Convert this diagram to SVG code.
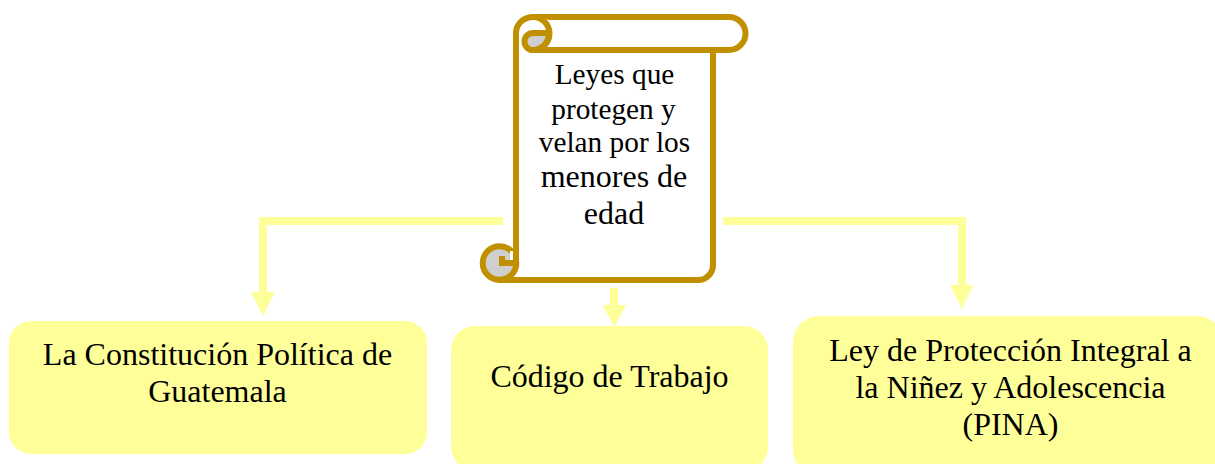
<svg xmlns="http://www.w3.org/2000/svg" width="1215" height="464" viewBox="0 0 1215 464">
<style>
text{font-family:"Liberation Serif","Times New Roman",serif;fill:#000;text-anchor:middle}
.s{font-size:29.3px}.l{font-size:32px}
.box{fill:#ffff99}
.line{fill:none;stroke:#ffff99;stroke-width:8}
.head{fill:#ffff99}
.sc{fill:#fff;stroke:#c09000;stroke-width:6;stroke-linejoin:round}
.cu{fill:#cfcfcf;stroke:#c09000;stroke-width:6;stroke-linejoin:round}
.hook{fill:none;stroke:#c09000;stroke-width:6}
</style>
<g id="connectors">
<path class="line" d="M503 221H263V293"/><polygon class="head" points="251,292 275,292 263,316"/>
<path class="line" d="M614 288V306"/><polygon class="head" points="602.500,305 626,305 614.300,327"/>
<path class="line" d="M723 221H962V286"/><polygon class="head" points="950,285 973.500,285 961.800,309"/>
</g>
<g id="scroll">
<path class="sc" d="M516 265V33A17 16 0 0 1 533 17H729A16.500 16.500 0 0 1 729 50H713V265A15 15 0 0 1 698 280H500V262H516Z"/>
<path class="sc" d="M533 17A16.500 16.500 0 0 1 533 50H713"/>
<path class="cu" d="M533 50A8.500 8.500 0 0 1 533 33H549A16.500 16.500 0 0 1 533 50Z"/>
<circle class="cu" cx="499.500" cy="263" r="16.800"/>
<path d="M510 251h3v9h-3z" fill="#fff"/>
<path class="hook" d="M516 263H502V256"/>
<text class="s" x="614.500" y="84">Leyes que</text>
<text class="s" x="613.500" y="119">protegen y</text>
<text class="s" x="614.500" y="152">velan por los</text>
<text class="l" x="614" y="187">menores de</text>
<text class="l" x="614" y="224">edad</text>
</g>
<g id="constitucion">
<rect class="box" x="9" y="321" width="418" height="133" rx="22"/>
<text class="l" x="217.500" y="365">La Constitución Política de</text>
<text class="l" x="217.500" y="402">Guatemala</text>
</g>
<g id="codigo">
<rect class="box" x="451" y="326" width="317" height="145" rx="24"/>
<text class="l" x="609.500" y="387">Código de Trabajo</text>
</g>
<g id="pina">
<rect class="box" x="793" y="316" width="430" height="160" rx="26"/>
<text class="l" x="1010.500" y="361">Ley de Protección Integral a</text>
<text class="l" x="1010.500" y="398">la Niñez y Adolescencia</text>
<text class="l" x="1010.500" y="435">(PINA)</text>
</g>
</svg>
